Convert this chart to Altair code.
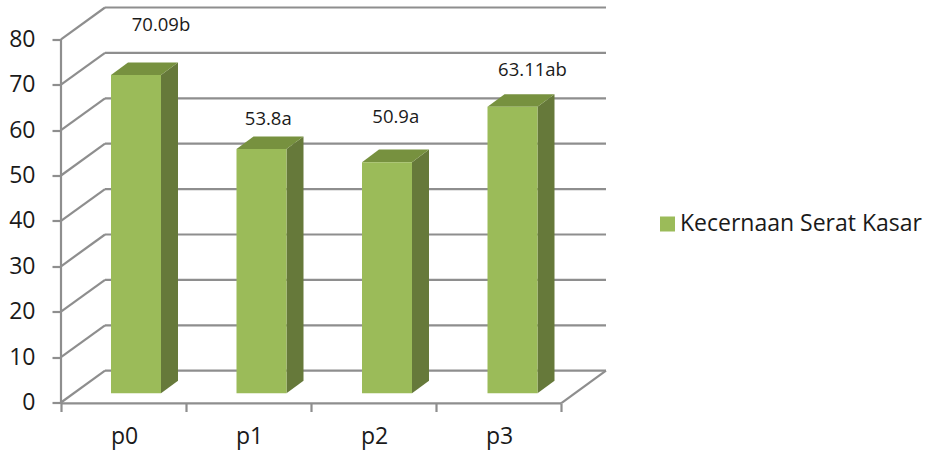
import altair as alt
import pandas as pd

categories = ["p0", "p1", "p2", "p3"]
values = [70.09, 53.8, 50.9, 63.11]
value_labels = ["70.09b", "53.8a", "50.9a", "63.11ab"]
label_shift_x = [0.2, 0.054, 0.07, 0.16]
label_lift = [11.0, 6.6, 10.0, 8.2]
y_ticks = [0, 10, 20, 30, 40, 50, 60, 70, 80]
series_name = "Kecernaan Serat Kasar"

# Oblique projection of the chart box, in axis units
WALL_DX, WALL_DY = 0.352, 7.0
BAR_DX, BAR_DY = 0.136, 2.78
BAR_BASE = 2.03
BAR_LEFT, BAR_WIDTH, BAR_STEP = 0.4, 0.4, 1.004
X_MAX, Y_MAX = 4.36, 87.0

FRONT, SIDE, TOP = "#9BBB59", "#66793A", "#77913F"
GRID = "#8E8E8E"
INK = "#1A1A1A"
FONT = "Open Sans"

x_scale = alt.Scale(domain=[0, X_MAX], nice=False, zero=False)
y_scale = alt.Scale(domain=[0, Y_MAX], nice=False, zero=False)
X = lambda f, **k: alt.X(f, type="quantitative", scale=x_scale, title=None, **k)
Y = lambda f, **k: alt.Y(f, type="quantitative", scale=y_scale, title=None, stack=None, **k)

# Box outline: back wall lines, left wall diagonals, floor edges and left axis
lines = []
for t in y_ticks:
    lines.append(dict(x=WALL_DX, x2=X_MAX, y=t + WALL_DY, y2=t + WALL_DY))
    lines.append(dict(x=0, x2=WALL_DX, y=t, y2=t + WALL_DY))
lines.append(dict(x=4, x2=X_MAX, y=-0.2, y2=WALL_DY))
lines.append(dict(x=0, x2=4, y=-0.2, y2=-0.2))
lines.append(dict(x=0, x2=0, y=-0.2, y2=80))
box = (
    alt.Chart(pd.DataFrame(lines))
    .mark_rule(color=GRID, strokeWidth=2.2)
    .encode(X("x"), x2="x2", y=Y("y"), y2="y2")
)

# Invisible layer that carries both axes
axes = (
    alt.Chart(pd.DataFrame({"x": [0, 4], "y": [0, 80]}))
    .mark_point(opacity=0)
    .encode(
        X("x", axis=alt.Axis(
            values=[0, 1, 2, 3, 4],
            labelExpr="datum.value < 4 ? 'p' + datum.value : ''",
            labelOffset=63, labelPadding=14, labelFontSize=23, labelFont=FONT,
            labelColor=INK, labelBound=False, labelFlush=False, domain=False, grid=False,
            tickColor=GRID, tickWidth=2.2, tickSize=8, tickOffset=0, offset=1,
        )),
        Y("y", axis=alt.Axis(
            values=y_ticks, labelFontSize=23, labelFont=FONT, labelColor=INK,
            labelPadding=17, domain=False, grid=False,
            tickColor=GRID, tickWidth=2.2, tickSize=9,
        )),
    )
)

fronts, sides, tops, labels = [], [], [], []
for i, (c, v) in enumerate(zip(categories, values)):
    left = i * BAR_STEP + BAR_LEFT
    right = left + BAR_WIDTH
    top = BAR_BASE + v
    fronts.append(dict(cat=c, x=left, x2=right, y=BAR_BASE, y2=top, series=series_name))
    sides.append(dict(cat=c, x=right, y=BAR_BASE, y2=top))
    sides.append(dict(cat=c, x=right + BAR_DX, y=BAR_BASE + BAR_DY, y2=top + BAR_DY))
    tops.append(dict(cat=c, y=top, x=left, x2=right))
    tops.append(dict(cat=c, y=top + BAR_DY, x=left + BAR_DX, x2=right + BAR_DX))
    labels.append(dict(text=value_labels[i], x=left + BAR_WIDTH / 2 + label_shift_x[i],
                       y=top + label_lift[i]))

side_faces = (
    alt.Chart(pd.DataFrame(sides))
    .mark_area(color=SIDE, interpolate="linear")
    .encode(X("x"), y=Y("y"), y2="y2", detail="cat:N")
)
top_faces = (
    alt.Chart(pd.DataFrame(tops))
    .mark_area(color=TOP, orient="horizontal", interpolate="linear")
    .encode(alt.X("x", type="quantitative", scale=x_scale, title=None, stack=None),
            x2="x2", y=alt.Y("y", type="quantitative", scale=y_scale, title=None),
            detail="cat:N")
)
front_faces = (
    alt.Chart(pd.DataFrame(fronts))
    .mark_rect()
    .encode(
        X("x"), x2="x2", y=Y("y"), y2="y2",
        color=alt.Color(
            "series:N",
            scale=alt.Scale(domain=[series_name], range=[FRONT]),
            legend=alt.Legend(
                orient="none", legendX=595, legendY=205, title=None,
                symbolType="square", symbolSize=225, symbolStrokeWidth=0,
                labelFontSize=23, labelFont=FONT, labelColor=INK, labelOffset=1,
                labelLimit=300,
            ),
        ),
    )
)
value_text = (
    alt.Chart(pd.DataFrame(labels))
    .mark_text(fontSize=18.5, font=FONT, color=INK, align="center", baseline="middle")
    .encode(X("x"), y=Y("y"), text="text:N")
)

chart = (
    alt.layer(box, axes, side_faces, top_faces, front_faces, value_text)
    .properties(
        width=545, height=395,
        padding={"left": 61, "top": 7.5, "right": 321, "bottom": 49.5},
        autosize=alt.AutoSizeParams(type="none"),
        background="white",
    )
    .configure_view(stroke=None)
)

chart.save("out.html", embed_options={"renderer": "svg", "actions": False})
